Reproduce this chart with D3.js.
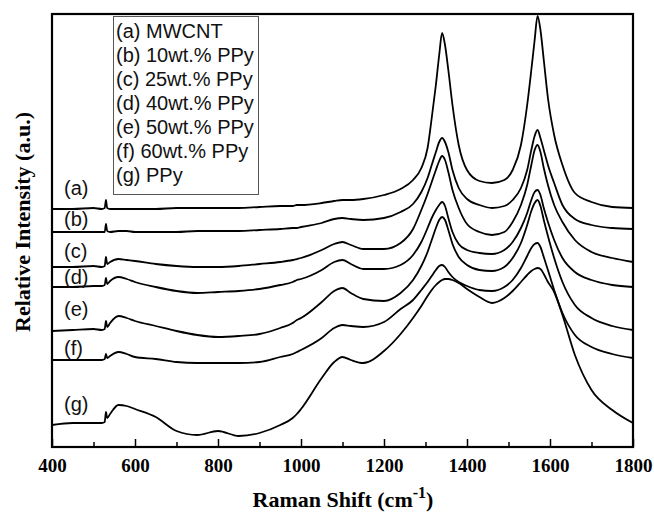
<!DOCTYPE html>
<html><head><meta charset="utf-8">
<script src="https://cdn.jsdelivr.net/npm/d3@7/dist/d3.min.js"></script>
<style>body{margin:0;background:#fff}</style>
</head><body>
<svg id="chart" width="654" height="512"></svg>
<script>
// Raman shift (cm-1) sample positions
const ramanShift = [400,450,500,520,527,530,533,540,560,580,600,650,700,750,800,850,900,950,980,990,1000,1050,1080,1100,1120,1150,1200,1240,1270,1290,1305,1315,1325,1333,1340,1347,1355,1365,1380,1400,1430,1460,1490,1510,1530,1545,1555,1563,1570,1577,1585,1595,1610,1630,1660,1700,1750,1800];

// Relative intensities (a.u., stacked offsets as in the figure)
const mwcnt = [238,238,239,238,239,247,239,238,238,238,238,238,239,239,239,239,240,241,241,242,242,244,246,247,247,248,252,258,267,279,299,329,362,392,414,402,377,342,302,277,266,264,267,277,302,342,377,407,431,417,387,349,312,282,254,245,240,239];
const ppy10 = [215,215,215,215,215,223,216,215,216,216,215,215,215,216,216,216,217,218,219,219,220,224,228,229,228,227,229,235,243,255,269,282,295,305,309,305,295,277,259,248,242,239,241,247,259,277,297,311,317,309,297,282,264,242,228,222,219,218];
const ppy25 = [180,180,181,180,181,190,183,185,188,187,186,183,181,180,180,181,183,185,187,188,189,197,203,205,202,198,198,204,218,237,253,265,277,286,291,287,275,257,239,223,215,212,215,225,242,262,282,297,302,295,279,262,242,225,207,195,189,185];
const ppy40 = [160,160,161,161,162,169,163,166,170,168,165,160,156,154,155,156,158,162,165,167,168,177,185,187,183,178,178,182,192,205,219,229,237,242,245,241,229,215,203,197,194,193,197,205,219,234,247,255,257,252,239,225,207,189,175,167,162,160];
const ppy50 = [116,117,118,117,118,126,120,124,131,129,126,121,116,112,110,111,113,119,124,127,129,145,156,159,154,148,146,154,167,181,195,207,219,227,230,227,217,203,190,182,177,176,180,189,204,222,236,244,247,241,227,211,189,165,142,129,121,117];
const ppy60 = [87,87,87,87,88,93,89,91,95,93,90,88,85,84,84,84,85,90,93,95,97,109,119,122,121,120,125,138,147,157,165,171,177,181,182,180,175,170,165,161,157,156,160,167,179,191,199,203,204,200,190,177,157,134,112,100,93,89];
const ppy = [22,24,24,24,25,35,29,33,42,41,38,30,16,12,16,11,14,22,29,33,38,69,85,90,87,84,96,113,129,141,151,157,162,165,167,168,168,167,164,158,150,144,149,156,165,172,176,178,179,178,173,165,155,132,92,57,37,24];

const curveTags = ["(a)","(b)","(c)","(d)","(e)","(f)","(g)"];
const legendLabels = ["(a) MWCNT","(b) 10wt.% PPy","(c) 25wt.% PPy","(d) 40wt.% PPy","(e) 50wt.% PPy","(f) 60wt.% PPy","(g) PPy"];
const majorTicks = [400,600,800,1000,1200,1400,1600,1800];
const minorTicks = [500,700,900,1100,1300,1500,1700];

const allSeries = [mwcnt, ppy10, ppy25, ppy40, ppy50, ppy60, ppy];

const svg = d3.select("#chart");
const L = 52, R = 633, T = 14, B = 447;
const x = d3.scaleLinear().domain([400,1800]).range([L,R]);
const y = d3.scaleLinear().domain([0,433]).range([B,T]);

const serif = "'Liberation Serif','Times New Roman',serif";
const sans = "'Liberation Sans',Arial,sans-serif";

// curves
const line = d3.line().x((d,i)=>x(ramanShift[i])).y(d=>y(d)).curve(d3.curveMonotoneX);
svg.append("g").selectAll("path").data(allSeries).join("path")
  .attr("d", line).attr("fill","none").attr("stroke","#000").attr("stroke-width",1.8)
  .attr("stroke-linejoin","round");

// axes (ticks inside)
const gx = svg.append("g").attr("transform",`translate(0,${B})`)
  .call(d3.axisBottom(x).tickValues(majorTicks).tickSize(-8).tickPadding(12).tickFormat(d3.format("d")));
gx.select(".domain").remove();
gx.selectAll("line").attr("stroke","#000").attr("stroke-width",1.5);
gx.selectAll("text").attr("font-family",serif).attr("font-weight","bold").attr("font-size",19).attr("fill","#000");
const gm = svg.append("g").attr("transform",`translate(0,${B})`)
  .call(d3.axisBottom(x).tickValues(minorTicks).tickSize(-5).tickFormat(""));
gm.select(".domain").remove();
gm.selectAll("line").attr("stroke","#000").attr("stroke-width",1.5);

// frame
svg.append("rect").attr("x",L).attr("y",T).attr("width",R-L).attr("height",B-T)
  .attr("fill","none").attr("stroke","#000").attr("stroke-width",2.2);

// legend box
svg.append("rect").attr("x",113.5).attr("y",16.5).attr("width",145).attr("height",178)
  .attr("fill","#fff").attr("stroke","#555").attr("stroke-width",1);
svg.append("g").selectAll("text").data(legendLabels).join("text")
  .attr("x",116).attr("y",(d,i)=>38+i*24).text(d=>d)
  .attr("font-family",sans).attr("font-size",20).attr("fill","#111");

// curve tags
const tagY = [195,226,258,284,316,355,411];
svg.append("g").selectAll("text").data(curveTags).join("text")
  .attr("x",64).attr("y",(d,i)=>tagY[i]).text(d=>d)
  .attr("font-family",sans).attr("font-size",20).attr("fill","#111");

// axis titles
const xt = svg.append("text").attr("x",343).attr("y",507).attr("text-anchor","middle")
  .attr("font-family",serif).attr("font-weight","bold").attr("font-size",22).attr("fill","#000");
xt.append("tspan").text("Raman Shift (cm");
xt.append("tspan").text("-1").attr("font-size",16).attr("dy",-9);
xt.append("tspan").text(")").attr("dy",9);

svg.append("text").attr("transform","translate(30,222) rotate(-90)").attr("text-anchor","middle")
  .attr("font-family",serif).attr("font-weight","bold").attr("font-size",22).attr("fill","#000")
  .text("Relative Intensity (a.u.)");
</script>
</body></html>
